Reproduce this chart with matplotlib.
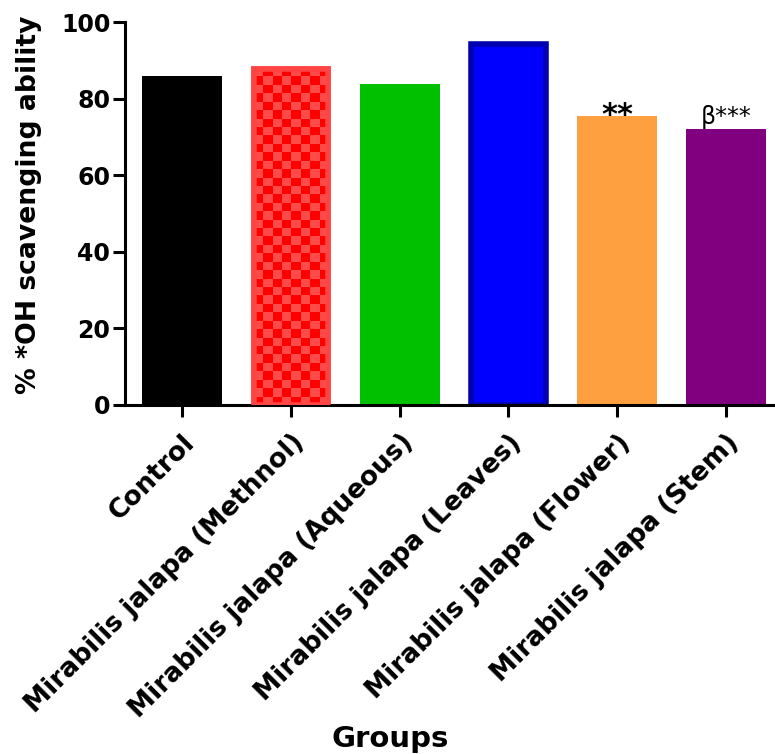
import numpy as np
import matplotlib
matplotlib.use('Agg')
from matplotlib import pyplot as plt
from matplotlib.colors import ListedColormap

# data
groups = ['Control', 'Mirabilis jalapa (Methnol)', 'Mirabilis jalapa (Aqueous)',
          'Mirabilis jalapa (Leaves)', 'Mirabilis jalapa (Flower)', 'Mirabilis jalapa (Stem)']
values = [85.9, 87.8, 83.8, 94.3, 75.5, 72.0]
marks = ['', '', '', '', '**', 'β***']

face = ['#000000', '#ff4848', '#00c000', '#0000ff', '#ffa040', '#800080']
edge = ['#000000', '#ff4444', '#00c000', '#0000b0', '#ffa040', '#800080']
lw = [0, 4, 0, 4, 0, 0]

plt.rcParams['font.family'] = 'DejaVu Sans'
fig = plt.figure(figsize=(7.75, 7.54), dpi=100)
ax = fig.add_axes([125/775, 1-405/754, 1-125/775, 383/754])

x = np.arange(len(groups))
bars = []
for i in range(len(groups)):
    w = 0.735 if lw[i] == 0 else 0.735 - 0.052
    b = ax.bar(x[i], values[i], width=w, color=face[i], edgecolor=edge[i],
               linewidth=lw[i], zorder=2)
    bars.append(b[0])

# checker fill for the methanol bar
mb = bars[1]
nx = 8
ny = int(round(values[1] / 2.2))
checker = (np.indices((ny, nx)).sum(axis=0) % 2)
im = ax.imshow(checker, cmap=ListedColormap(['#ff4a4a', '#ff0000']),
               extent=(mb.get_x(), mb.get_x() + mb.get_width(), 0, mb.get_height()),
               aspect='auto', interpolation='nearest', zorder=2.5)
im.set_clip_path(mb)
ax.bar(x[1], values[1], width=mb.get_width(), facecolor='none', edgecolor=edge[1],
       linewidth=lw[1], zorder=3)

# significance marks
ax.annotate(marks[4], xy=(x[4], values[4]), xytext=(0, -6), textcoords='offset points',
            ha='center', va='baseline', fontsize=22, fontweight='bold')
ax.annotate(marks[5], xy=(x[5], values[5]), xytext=(0, 4), textcoords='offset points',
            ha='center', va='baseline', fontsize=17)

ax.set_xlim(-0.524, 5.45)
ax.set_ylim(0, 100)
ax.set_yticks([0, 20, 40, 60, 80, 100])
ax.set_xticks(x)
ax.set_xticklabels(groups, rotation=45, ha='right', rotation_mode='anchor',
                   fontsize=19, fontweight='bold')
for t in ax.get_yticklabels():
    t.set_fontsize(17)
    t.set_fontweight('bold')

for s in ['top', 'right']:
    ax.spines[s].set_visible(False)
for s in ['left', 'bottom']:
    ax.spines[s].set_linewidth(2.2)
ax.tick_params(axis='both', width=2.2, length=8.6, direction='out')
ax.tick_params(axis='x', pad=9)
ax.tick_params(axis='y', pad=2)

ax.set_ylabel('% *OH scavenging ability', fontsize=19.2, fontweight='bold')
ax.yaxis.set_label_coords(-0.128, 0.522)
fig.text(390/775, 1-747/754, 'Groups', ha='center', va='baseline',
         fontsize=21, fontweight='bold')

fig.savefig('out.png', dpi=100)
